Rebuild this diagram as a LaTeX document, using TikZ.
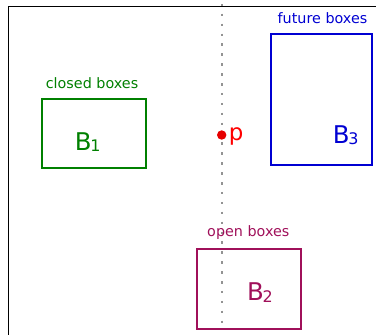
\documentclass[tikz,border=0pt]{standalone}
\usepackage{fontspec}
\setmainfont{DejaVu Sans}
\definecolor{closedcol}{RGB}{0,128,0}
\definecolor{futurecol}{RGB}{0,0,210}
\definecolor{opencol}{RGB}{160,16,90}
\definecolor{pointcol}{RGB}{230,0,0}
\definecolor{ptextcol}{RGB}{255,0,0}
\newcommand{\boxname}[1]{{\fontsize{24.5}{24.5}\selectfont B\kern-1.2bp\raisebox{-1.5bp}{\fontsize{16}{16}\selectfont #1}}}
\begin{document}
\begin{tikzpicture}[x=1bp,y=-1bp,
  region/.style={draw, line width=2bp, inner sep=0pt, fill=none},
  tag/.style={inner sep=0pt, anchor=base, font=\fontsize{14.4}{14.4}\selectfont},
  bname/.style={inner sep=0pt, anchor=base west},
  frameline/.style={line width=1.4bp, black},
  sweep/.style={line width=1.5bp, gray!85!white, dash pattern=on 2.5bp off 7.4bp}]
  \useasboundingbox (0,0) rectangle (376,335);

  % axes frame
  \coordinate (fbl) at (8.3,335);
  \coordinate (ftl) at (8.3,6.7);
  \coordinate (ftr) at (376,6.7);
  \draw[frameline] (fbl) -- (ftl) -- (ftr);

  % sweep line
  \coordinate (stop) at (222,3.8);
  \coordinate (sbot) at (222,330);
  \draw[sweep] (stop) -- (sbot);

  % boxes
  \node[region, closedcol, minimum width=103.4bp, minimum height=68.7bp] (b1) at (94,133.35) {};
  \node[region, futurecol, minimum width=101bp, minimum height=131.3bp] (b3) at (321.8,99.35) {};
  \node[region, opencol, minimum width=104.3bp, minimum height=80bp] (b2) at (248.85,289.3) {};

  % group labels
  \node[tag, text=closedcol] (lclosed) at (92,88.3) {closed boxes};
  \node[tag, text=futurecol] (lfuture) at (322.5,23.3) {future boxes};
  \node[tag, text=opencol] (lopen) at (248.3,236.7) {open boxes};

  % box names
  \node[bname, text=closedcol] (n1) at (74.6,150) {\boxname{1}};
  \node[bname, text=futurecol] (n3) at (332.6,143.3) {\boxname{3}};
  \node[bname, text=opencol] (n2) at (246.9,300.7) {\boxname{2}};

  % point p
  \node[circle, fill=pointcol, inner sep=0pt, minimum size=9.4bp] (p) at (221.7,135) {};
  \node[inner sep=0pt, anchor=base west, text=ptextcol, font=\fontsize{23}{23}\selectfont] (plabel) at (228.6,140.2) {p};
\end{tikzpicture}
\end{document}
